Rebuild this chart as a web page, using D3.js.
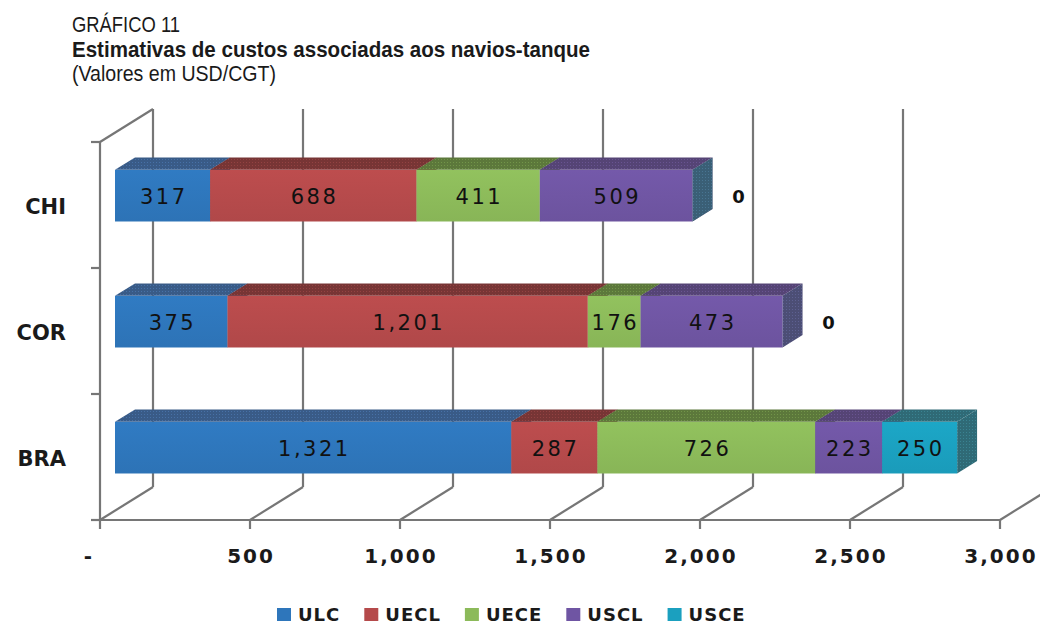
<!DOCTYPE html>
<html>
<head>
<meta charset="utf-8">
<script src="https://cdn.jsdelivr.net/npm/d3@7"></script>
<style>
  html, body { margin: 0; padding: 0; background: #fff; }
  svg { display: block; }
  .ttl { font-family: "Liberation Sans Narrow", "Arial Narrow", "Liberation Sans", sans-serif; fill: #1a1a1a; }
  .lbl { font-family: "DejaVu Sans", Verdana, sans-serif; }
</style>
</head>
<body>
<svg id="chart" width="1040" height="626"></svg>
<script>
// Cost estimates for tankers, USD/CGT, by country and cost component
const categories = ["CHI", "COR", "BRA"];
const seriesNames = ["ULC", "UECL", "UECE", "USCL", "USCE"];
const ULC  = [317, 375, 1321];
const UECL = [688, 1201, 287];
const UECE = [411, 176, 726];
const USCL = [509, 473, 223];
const USCE = [0, 0, 250];
const xTickValues = [0, 500, 1000, 1500, 2000, 2500, 3000];
const xTickLabels = ["-", "500", "1,000", "1,500", "2,000", "2,500", "3,000"];

const seriesValues = [ULC, UECL, UECE, USCL, USCE];
const frontColors = ["#2e76bb", "#b54a4b", "#8cba5a", "#6f55a3", "#1ba0bf"];
const topColors   = ["#395b87", "#773535", "#5c783b", "#554475", "#2f6a76"];

const rows = categories.map((c, i) => {
  const r = { cat: c };
  seriesNames.forEach((s, j) => { r[s] = seriesValues[j][i]; });
  return r;
});

const svg = d3.select("#chart");

// Titles (condensed setting)
const titles = [
  { text: "GRÁFICO 11", y: 32, weight: 300, len: 108 },
  { text: "Estimativas de custos associadas aos navios-tanque", y: 57, weight: 700, len: 518 },
  { text: "(Valores em USD/CGT)", y: 81, weight: 400, len: 204 }
];
titles.forEach(t => {
  svg.append("text").attr("class", "ttl").attr("x", 72).attr("y", t.y)
    .style("font-size", "22px").style("font-weight", t.weight)
    .attr("textLength", t.len).attr("lengthAdjust", "spacingAndGlyphs")
    .text(t.text);
});

// Scales on the front plane
const x = d3.scaleLinear().domain([0, 3000]).range([100, 1000]);
const y = d3.scaleBand().domain(categories).range([142, 520]).padding(0);

// Oblique depth: full wall depth and the slab occupied by the bars
const wallD = { dx: 53, dy: -33 };
const barF = 0.283, barB = 0.66;
const fdx = wallD.dx * barF, fdy = wallD.dy * barF;
const bdx = wallD.dx * barB - fdx, bdy = wallD.dy * barB - fdy;
const barH = y.bandwidth() * 0.41;

const gridColor = "#767676";
const grid = svg.append("g").attr("stroke", gridColor).attr("stroke-width", 2.2).attr("fill", "none");

const floorY = y.range()[1];
const topY = y.range()[0];

// Back wall vertical gridlines and floor diagonals
xTickValues.forEach(v => {
  const bx = x(v) + wallD.dx;
  grid.append("line").attr("x1", bx).attr("x2", bx)
    .attr("y1", topY + wallD.dy).attr("y2", floorY + wallD.dy);
  grid.append("line").attr("x1", x(v)).attr("y1", floorY)
    .attr("x2", bx).attr("y2", floorY + wallD.dy);
});
// Top edge of the left wall
grid.append("line").attr("x1", x(0)).attr("y1", topY)
  .attr("x2", x(0) + wallD.dx).attr("y2", topY + wallD.dy);

// Category axis (left) and value axis (front floor edge)
grid.append("line").attr("x1", x(0)).attr("x2", x(0)).attr("y1", topY).attr("y2", floorY);
const catTicks = [...categories.map(c => y(c)), floorY];
catTicks.forEach(t => {
  grid.append("line").attr("x1", x(0) - 9).attr("x2", x(0)).attr("y1", t).attr("y2", t);
});
grid.append("line").attr("x1", x(0) - 9).attr("x2", x(3000)).attr("y1", floorY).attr("y2", floorY);
xTickValues.forEach(v => {
  grid.append("line").attr("x1", x(v)).attr("x2", x(v)).attr("y1", floorY).attr("y2", floorY + 9);
});

// Value tick labels
svg.append("g").selectAll("text").data(xTickValues).join("text")
  .attr("class", "lbl")
  .attr("x", (d, i) => x(d) + (i === 0 ? -11 : 1))
  .attr("y", floorY + 43)
  .attr("text-anchor", "middle")
  .style("font-size", "20px").style("font-weight", "bold").style("letter-spacing", "2px")
  .attr("fill", "#1a1a1a")
  .text((d, i) => xTickLabels[i]);

// Category labels
svg.append("g").selectAll("text").data(categories).join("text")
  .attr("class", "lbl")
  .attr("x", 66)
  .attr("y", d => y(d) + y.bandwidth() / 2 + 1)
  .attr("dy", "0.36em")
  .attr("text-anchor", "end")
  .style("font-size", "21px").style("font-weight", "bold")
  .attr("fill", "#1a1a1a")
  .text(d => d);

// Stacked 3D bars
const stack = d3.stack().keys(seriesNames)(rows);

const defs = svg.append("defs");
topColors.forEach((c, i) => {
  const p = defs.append("pattern").attr("id", "tex" + i)
    .attr("width", 3).attr("height", 3).attr("patternUnits", "userSpaceOnUse");
  p.append("rect").attr("width", 3).attr("height", 3).attr("fill", c);
  p.append("rect").attr("width", 1).attr("height", 1).attr("fill", d3.color(c).brighter(0.6));
});
frontColors.forEach((c, i) => {
  const g = defs.append("linearGradient").attr("id", "fg" + i)
    .attr("x1", 0).attr("y1", 0).attr("x2", 0).attr("y2", 1);
  g.append("stop").attr("offset", "0%").attr("stop-color", d3.color(c).brighter(0.12));
  g.append("stop").attr("offset", "100%").attr("stop-color", d3.color(c).darker(0.08));
});

const bars = svg.append("g");
const labels = svg.append("g");

categories.forEach((cat, ci) => {
  const yc = y(cat) + y.bandwidth() / 2 + fdy;
  const yt = yc - barH / 2, yb = yc + barH / 2;
  stack.forEach((layer, si) => {
    const d = layer[ci];
    const x0 = x(d[0]) + fdx, x1 = x(d[1]) + fdx;
    const v = d[1] - d[0];
    const g = bars.append("g").attr("opacity", v === 0 ? (ci === 0 ? 0.7 : 0.25) : 1);
    // right face
    g.append("path")
      .attr("d", `M${x1},${yt}L${x1 + bdx},${yt + bdy}L${x1 + bdx},${yb + bdy}L${x1},${yb}Z`)
      .attr("fill", "url(#tex" + si + ")");
    if (v > 0) {
      // top face
      g.append("path")
        .attr("d", `M${x0},${yt}L${x0 + bdx},${yt + bdy}L${x1 + bdx},${yt + bdy}L${x1},${yt}Z`)
        .attr("fill", "url(#tex" + si + ")");
      // front face
      g.append("rect").attr("x", x0).attr("y", yt)
        .attr("width", x1 - x0).attr("height", barH)
        .attr("fill", "url(#fg" + si + ")");
    }
    const txt = labels.append("text").attr("class", "lbl")
      .attr("y", yc + 1).attr("dy", "0.36em")
      .attr("text-anchor", "middle")
      .style("font-size", "21px").style("letter-spacing", "2.5px")
      .attr("fill", "#111")
      .text(d3.format(",")(v));
    if (v > 0) {
      txt.attr("x", (x0 + x1) / 2 + 1.2);
    } else {
      txt.attr("x", x1 + bdx + 26).style("font-weight", "bold").style("letter-spacing", "0px")
        .style("font-size", "18px");
    }
  });
});

// Legend
const legend = svg.append("g");
let lx = 277;
seriesNames.forEach((s, i) => {
  const g = legend.append("g");
  g.append("rect").attr("x", lx).attr("y", 608).attr("width", 14).attr("height", 13)
    .attr("fill", frontColors[i]);
  const t = g.append("text").attr("class", "lbl").attr("x", lx + 21).attr("y", 614.5)
    .attr("dy", "0.36em")
    .style("font-size", "18px").style("font-weight", "bold").style("letter-spacing", "1px")
    .attr("fill", "#1a1a1a").text(s);
  lx += 21 + t.node().getComputedTextLength() + 24;
});
</script>
</body>
</html>
